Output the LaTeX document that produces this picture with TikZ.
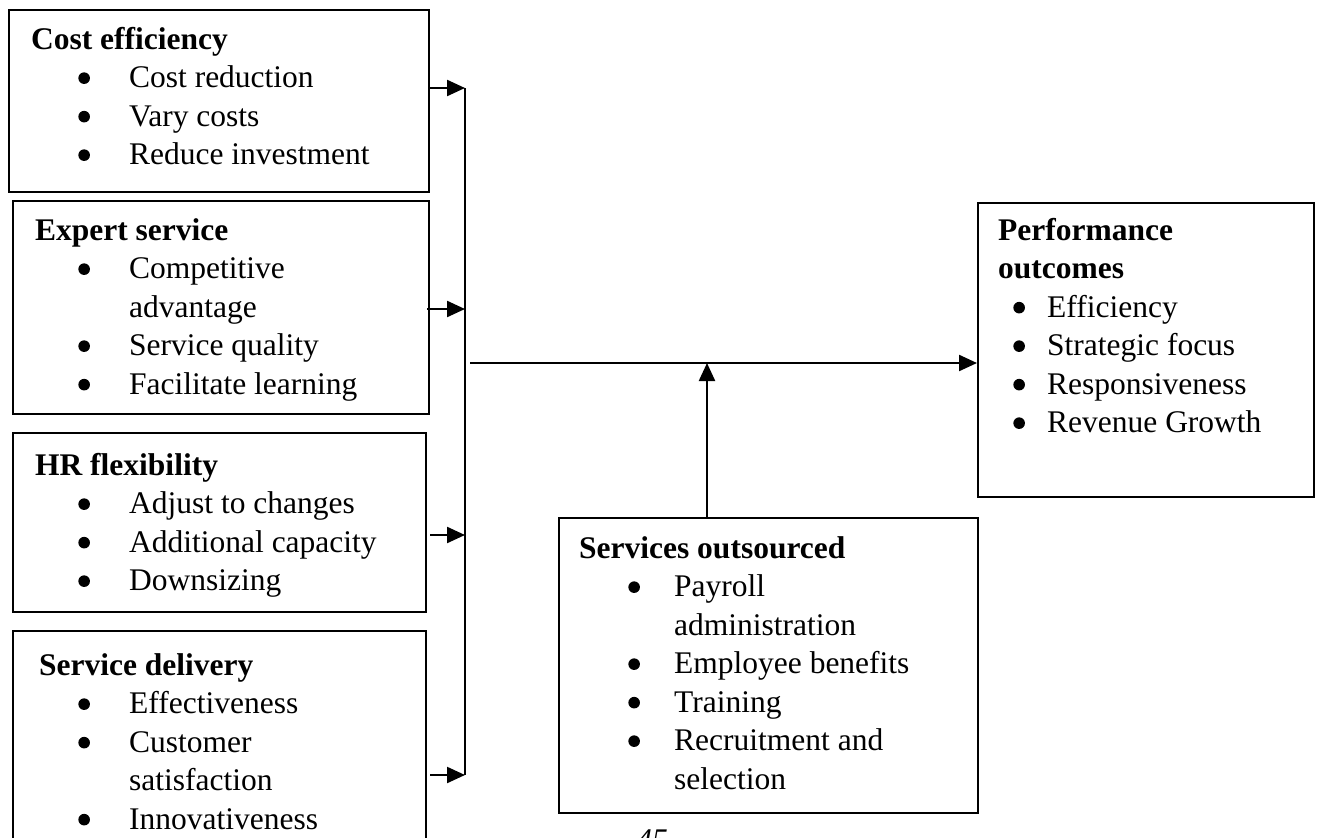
\documentclass[tikz,border=0pt]{standalone}
\usepackage{fontspec}
\setmainfont{Liberation Serif}
\usetikzlibrary{arrows.meta}

% horizontal offsets inside a box: bullet start and text start
\newlength\bulx
\newlength\txtx
\newcommand{\bdot}{\tikz[baseline=-9.5pt]\fill (0pt,0pt) circle (5.8pt);}
\newcommand{\ttl}[2]{\hspace*{#1}\textbf{#2}\par}
\newcommand{\itm}[1]{\hspace*{\bulx}\makebox[\dimexpr\txtx-\bulx\relax][l]{\bdot}#1\par}
\newcommand{\cnt}[1]{\hspace*{\txtx}#1\par}
% #1 width, #2 height, #3 first baseline, #4 bullet x, #5 text x, #6 body
\newcommand{\boxbody}[6]{%
  \parbox[c][#2][t]{#1}{%
    \setlength\parindent{0pt}\setlength\lineskiplimit{-100pt}%
    \setlength\bulx{#4}\setlength\txtx{#5}%
    \hbox{}\vspace{\dimexpr#3-\baselineskip\relax}%
    #6}}

\tikzset{
  panel/.style={draw, line width=2.3pt, inner sep=0pt, anchor=north west,
    font=\fontsize{31.5pt}{38.5pt}\selectfont},
  link/.style={line width=2.3pt},
  arr/.style={line width=2.3pt, -{Triangle[length=18pt,width=16pt]}},
}

\begin{document}
\begin{tikzpicture}[x=1pt, y=-1pt]
\useasboundingbox (0,0) rectangle (1323,838);

\node[panel] (cost) at (8,9) {\boxbody{420pt}{182pt}{39pt}{69.2pt}{120pt}{%
  \ttl{22pt}{Cost efficiency}
  \itm{Cost reduction}
  \itm{Vary costs}
  \itm{Reduce investment}}};

\node[panel] (expert) at (12,200) {\boxbody{416pt}{213pt}{39pt}{65.2pt}{116pt}{%
  \ttl{22pt}{Expert service}
  \itm{Competitive}
  \cnt{advantage}
  \itm{Service quality}
  \itm{Facilitate learning}}};

\node[panel] (hr) at (12,432) {\boxbody{413pt}{179pt}{42pt}{65.2pt}{116pt}{%
  \ttl{22pt}{HR flexibility}
  \itm{Adjust to changes}
  \itm{Additional capacity}
  \itm{Downsizing}}};

\node[panel] (delivery) at (12,630) {\boxbody{413pt}{240pt}{44pt}{65.2pt}{116pt}{%
  \ttl{26pt}{Service delivery}
  \itm{Effectiveness}
  \itm{Customer}
  \cnt{satisfaction}
  \itm{Innovativeness}}};

\node[panel] (services) at (558,517) {\boxbody{419pt}{295pt}{40pt}{69.2pt}{115pt}{%
  \ttl{20pt}{Services outsourced}
  \itm{Payroll}
  \cnt{administration}
  \itm{Employee benefits}
  \itm{Training}
  \itm{Recruitment and}
  \cnt{selection}}};

\node[panel] (perf) at (977,202) {\boxbody{336pt}{294pt}{37pt}{35.2pt}{69pt}{%
  \ttl{20pt}{Performance}
  \ttl{20pt}{outcomes}
  \itm{Efficiency}
  \itm{Strategic focus}
  \itm{Responsiveness}
  \itm{Revenue Growth}}};

% collecting bar on the right of the four driver boxes
\coordinate (j1) at (465,88);
\coordinate (j2) at (465,309);
\coordinate (j3) at (465,535);
\coordinate (j4) at (465,775);
\coordinate (mstart) at (470,363);
\coordinate (mjoin) at (707,363);

\draw[link] (j1) -- (j4);
\draw[arr] (cost.east |- j1) -- (j1);
\draw[arr] ([xshift=-3pt]expert.east |- j2) -- (j2);
\draw[arr] ([xshift=3pt]hr.east |- j3) -- (j3);
\draw[arr] ([xshift=3pt]delivery.east |- j4) -- (j4);

\draw[arr] (mstart) -- (perf.west |- mstart);
\draw[arr] (services.north -| mjoin) -- (mjoin);

% page number at the foot
\node[font=\fontsize{31.5pt}{38pt}\selectfont\itshape, anchor=base] (pageno) at (652,850) {45};
\end{tikzpicture}
\end{document}
